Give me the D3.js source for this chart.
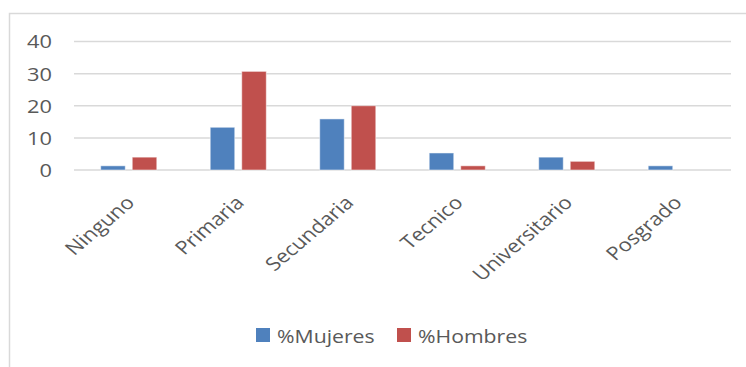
<!DOCTYPE html>
<html>
<head>
<meta charset="utf-8">
<script src="https://cdn.jsdelivr.net/npm/d3@7"></script>
<style>
  html, body { margin: 0; padding: 0; background: #fff; }
  svg { display: block; }
  text { font-family: "Open Sans", "Liberation Sans", sans-serif; fill: #595959; }
</style>
</head>
<body>
<svg id="chart" width="746" height="367"></svg>
<script>
// Nivel educativo por sexo (%)
const categories = ["Ninguno", "Primaria", "Secundaria", "Tecnico", "Universitario", "Posgrado"];
const seriesNames = ["%Mujeres", "%Hombres"];
const mujeres = [1.3, 13.3, 15.9, 5.3, 4.0, 1.3];
const hombres = [4.0, 30.7, 20.0, 1.3, 2.7, 0];
const yTicks = [0, 10, 20, 30, 40];
const colors = ["#4f81bd", "#c0504d"];

const svg = d3.select("#chart");
const W = 746, H = 367;
const plot = { left: 74, right: 731, top: 41.5, bottom: 170 };
const stretch = 1.18; // text is set slightly wide

// chart frame (top and left edges visible)
svg.append("path")
  .attr("d", `M9.5,${H} V13.5 H${W}`)
  .attr("fill", "none")
  .attr("stroke", "#d9d9d9")
  .attr("stroke-width", 1.5);

const x0 = d3.scaleBand().domain(categories).range([plot.left, plot.right]).paddingInner(0).paddingOuter(0);
const bw = x0.bandwidth();
const x1 = d3.scaleBand().domain(seriesNames).range([bw * 0.244, bw * 0.756]).paddingInner(0.222).paddingOuter(0);
const y = d3.scaleLinear().domain([0, 40]).range([plot.bottom, plot.top]);

// horizontal gridlines
svg.append("g").selectAll("line").data(yTicks).join("line")
  .attr("x1", plot.left).attr("x2", plot.right)
  .attr("y1", d => y(d)).attr("y2", d => y(d))
  .attr("stroke", "#d9d9d9").attr("stroke-width", 1.5);

// y axis labels
const yAxis = d3.axisLeft(y).tickValues(yTicks).tickSize(0).tickPadding(0);
const gy = svg.append("g").attr("transform", "translate(52,0)").call(yAxis);
gy.select(".domain").remove();
gy.selectAll("text")
  .attr("font-family", "Open Sans, Liberation Sans, sans-serif")
  .attr("font-size", 18.5)
  .attr("fill", "#595959")
  .attr("dy", "0.35em")
  .attr("transform", `scale(${stretch},1)`);

// bars
const rows = categories.map((c, i) => ({ cat: c, values: [mujeres[i], hombres[i]] }));
const groups = svg.append("g").selectAll("g").data(rows).join("g")
  .attr("transform", d => `translate(${x0(d.cat)},0)`);
groups.selectAll("rect")
  .data(d => d.values.map((v, k) => ({ key: seriesNames[k], v, k })).filter(e => e.v > 0))
  .join("rect")
  .attr("x", d => x1(d.key))
  .attr("width", x1.bandwidth())
  .attr("y", d => y(d.v))
  .attr("height", d => y(0) - y(d.v))
  .attr("fill", d => colors[d.k])
  .attr("stroke", "#ffffff")
  .attr("stroke-opacity", 0.5)
  .attr("stroke-width", 1);

// category labels rotated -45°
const xAxis = d3.axisBottom(x0).tickSize(0).tickPadding(0);
const gx = svg.append("g").attr("transform", `translate(0,${plot.bottom})`).call(xAxis);
gx.select(".domain").remove();
gx.selectAll("text")
  .attr("font-family", "Open Sans, Liberation Sans, sans-serif")
  .attr("font-size", 18.5)
  .attr("fill", "#595959")
  .attr("text-anchor", "end")
  .attr("dy", null)
  .attr("y", 0)
  .attr("transform", `translate(7,34) scale(${stretch},1) rotate(-45)`);

// legend
const legend = svg.append("g");
const legendItems = [
  { name: seriesNames[0], x: 256, color: colors[0] },
  { name: seriesNames[1], x: 397, color: colors[1] }
];
const li = legend.selectAll("g").data(legendItems).join("g")
  .attr("transform", d => `translate(${d.x},328)`);
li.append("rect").attr("width", 14).attr("height", 14).attr("fill", d => d.color);
li.append("text")
  .attr("transform", `translate(21,14.5) scale(${stretch},1)`)
  .attr("font-size", 18)
  .text(d => d.name);
</script>
</body>
</html>
